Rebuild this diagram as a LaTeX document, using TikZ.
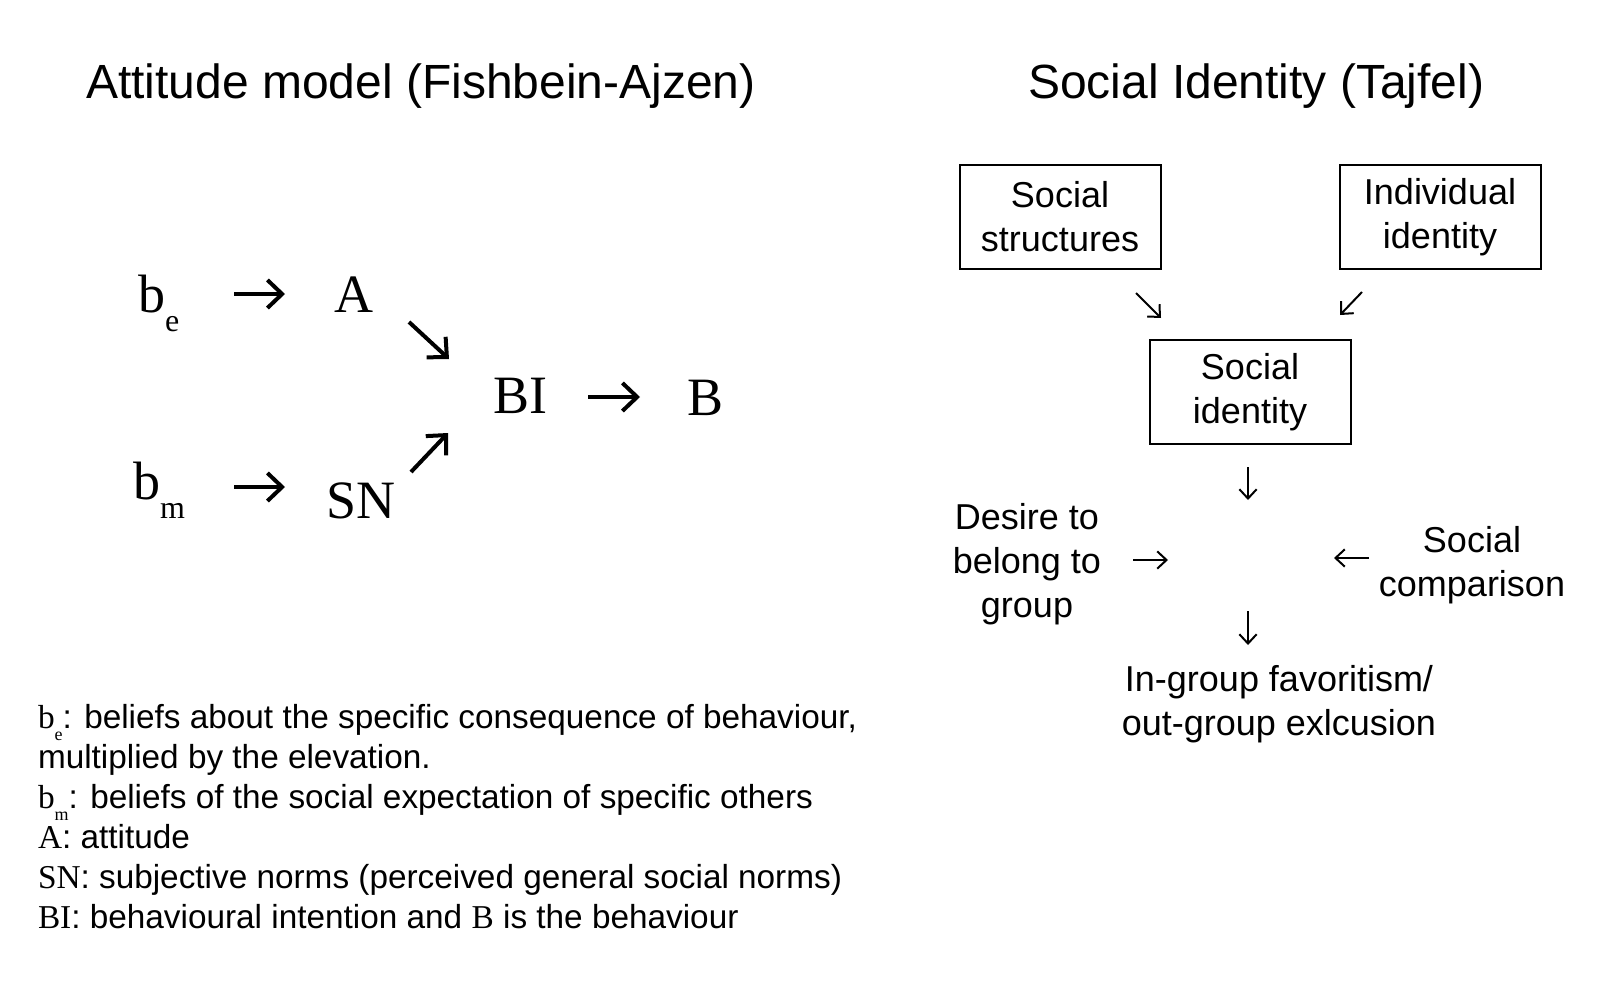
\documentclass[tikz,border=0pt]{standalone}
\usepackage{fontspec}
\setmainfont{Liberation Sans}
\newfontfamily\seriffam{Liberation Serif}
\usetikzlibrary{arrows.meta}
\newcommand\myTitle{\fontsize{36}{43}\selectfont}
\newcommand\myBox{\fontsize{27}{33}\selectfont}
\newcommand\myLeg{\fontsize{25}{30}\selectfont}
\newcommand\mySym{\seriffam\fontsize{40.5}{50}\selectfont}
\newcommand\mySub{\seriffam\fontsize{24}{30}\selectfont}
\newcommand\myLegSub{\seriffam\fontsize{13.5}{16}\selectfont}
\tikzset{
  txt/.style={inner sep=0pt, outer sep=0pt},
  sym/.style={txt, font=\mySym, anchor=base west},
  leg/.style={txt, font=\myLeg, anchor=base west},
  bigarrow/.style={line width=3pt, -{Straight Barb[length=11pt,width=21pt]}},
  smallarrow/.style={line width=1.5pt, -{Straight Barb[length=7pt,width=13pt]}},
  stbox/.style={draw, line width=1.5pt, minimum width=150.75pt, minimum height=78pt, align=center, font=\myBox, inner sep=0pt},
  plain/.style={txt, align=center, font=\myBox},
}
\begin{document}
\begin{tikzpicture}[x=0.75pt,y=-0.75pt]
\useasboundingbox (0,0) rectangle (1611,989);
% titles
\node[txt, font=\myTitle, anchor=base west] (t1) at (86,98) {Attitude model (Fishbein-Ajzen)};
\node[txt, font=\myTitle, anchor=base west] (t2) at (1028,98) {Social Identity (Tajfel)};
% left diagram
\node[sym] (be) at (138,312) {b\raisebox{-14.25pt}{\mySub e}};
\node[sym] (A) at (334,312) {A};
\node[sym] (BI) at (493,413) {BI};
\node[sym] (B) at (687,415) {B};
\node[sym] (bm) at (133,499) {b\raisebox{-14.25pt}{\mySub m}};
\node[sym] (SN) at (326,518) {SN};
\coordinate (a1s) at (234,294); \coordinate (a1e) at (285,294);
\coordinate (a2s) at (409,322); \coordinate (a2e) at (449,359);
\coordinate (a3s) at (411,472); \coordinate (a3e) at (448,433);
\coordinate (a4s) at (588,397); \coordinate (a4e) at (640,397);
\coordinate (a5s) at (234,487); \coordinate (a5e) at (285,487);
\draw[bigarrow] (a1s) -- (a1e);
\draw[bigarrow] (a2s) -- (a2e);
\draw[bigarrow] (a3s) -- (a3e);
\draw[bigarrow] (a4s) -- (a4e);
\draw[bigarrow] (a5s) -- (a5e);
% legend
\node[leg] (l1) at (38,728) {{\seriffam b}\raisebox{-9pt}{\myLegSub e}: beliefs about the specific consequence of behaviour,};
\node[leg] (l2) at (38,768) {multiplied by the elevation.};
\node[leg] (l3) at (38,808) {{\seriffam b}\raisebox{-9pt}{\myLegSub m}: beliefs of the social expectation of specific others};
\node[leg] (l4) at (38,848) {{\seriffam A}: attitude};
\node[leg] (l5) at (38,888) {{\seriffam SN}: subjective norms (perceived general social norms)};
\node[leg] (l6) at (38,928) {{\seriffam BI}: behavioural intention and {\seriffam B} is the behaviour};
% right diagram
\node[stbox] (ss) at (1060,217) {Social\\structures};
\node[stbox] (ii) at (1440,217) {Individual\\identity};
\node[stbox] (si) at (1250,392) {Social\\identity};
\coordinate (r1s) at (1136,293); \coordinate (r1e) at (1161,318);
\coordinate (r2s) at (1362,292); \coordinate (r2e) at (1340,315);
\draw[smallarrow] (r1s) -- (r1e);
\draw[smallarrow] (r2s) -- (r2e);
\coordinate (d1s) at (1248,467); \coordinate (d1e) at (1248,500);
\draw[smallarrow] (d1s) -- (d1e);
\node[plain] (desire) at (1027,564) {Desire to\\belong to\\group};
\node[plain] (comp) at (1472,565) {Social\\comparison};
\coordinate (h1s) at (1133,560); \coordinate (h1e) at (1168,560);
\coordinate (h2s) at (1369,558); \coordinate (h2e) at (1334,558);
\draw[smallarrow] (h1s) -- (h1e);
\draw[smallarrow] (h2s) -- (h2e);
\coordinate (d2s) at (1248,611); \coordinate (d2e) at (1248,645);
\draw[smallarrow] (d2s) -- (d2e);
\node[plain] (ingroup) at (1279,704) {In-group favoritism/\\out-group exlcusion};
\end{tikzpicture}
\end{document}
